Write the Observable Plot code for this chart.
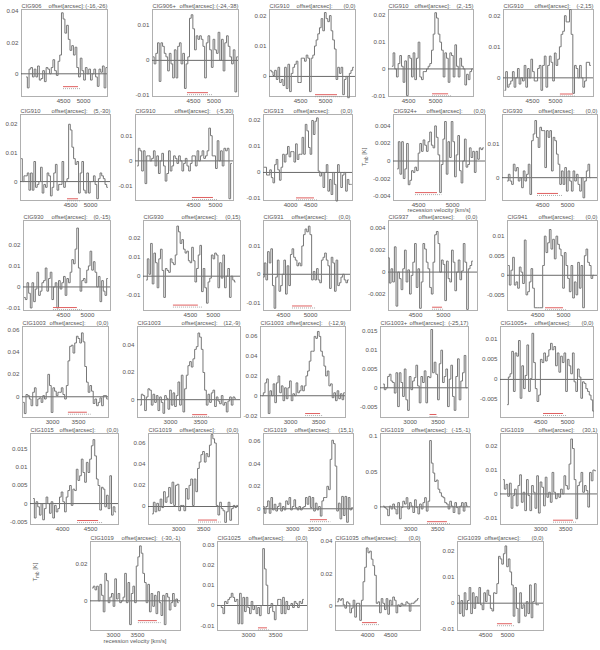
<!DOCTYPE html>
<html><head><meta charset="utf-8">
<script src="https://cdn.jsdelivr.net/npm/d3@7"></script>
<script src="https://cdn.jsdelivr.net/npm/@observablehq/plot@0.6"></script>
<style>
body{margin:0;background:#fff;}
#chart{position:relative;width:600px;height:650px;overflow:hidden;}
#chart svg{position:absolute;max-width:none;overflow:visible;background:transparent;}
</style></head><body><div id="chart"></div>
<script>
// ---------- data ----------
const names = ["CIG906","CIG906+","CIG910","CIG910","CIG910",
  "CIG910","CIG910","CIG913","CIG924+","CIG930",
  "CIG930","CIG930","CIG931","CIG937","CIG941",
  "CIG1003","CIG1003","CIG1003","CIG1003+","CIG1005+",
  "CIG1015","CIG1019","CIG1019","CIG1019","CIG1019",
  "CIG1019","CIG1025","CIG1035","CIG1039"];
const offsets = ["(-16,-26)","(-24,-38)","(0,0)","(2,-15)","(-2,15)",
  "(5,-30)","(-5,30)","(0,0)","(0,0)","(0,0)",
  "(0,-15)","(0,15)","(0,0)","(0,0)","(0,0)",
  "(0,0)","(12,-9)","(-12,9)","(-25,17)","(0,0)",
  "(0,0)","(0,0)","(15,1)","(-15,-1)","(30,1)",
  "(-30,-1)","(0,0)","(0,0)","(0,0)"];
const xDomains = [[3450,5600],[3500,5600],[3880,5600],[4130,5700],[3870,5826],
  [3250,5500],[3183,5410],[3325,5550],[4132,5485],[3700,5600],
  [3667,5480],[3480,5590],[4130,5740],[4017,5609],[3923,5650],
  [2423,4077],[2450,4167],[2463,3982],[2464,4054],[3760,5480],
  [3427,4999],[2400,4200],[2341,4386],[2444,4111],[2200,4140],
  [2521,4396],[2426,4093],[3304,5152],[3864,5817]];
const xTicks = [[4500,5000],[4500,5000],[4500,5000],[4500,5000],[4500,5000],
  [4500,5000],[4500,5000],[4000,4500],[4500,5000],[4500,5000],
  [4500,5000],[4500,5000],[4500,5000],[4500,5000],[4500,5000],
  [3000,3500],[3000,3500],[3000,3500],[3000,3500],[4500,5000],
  [4000,4500],[3000,3500],[3000,3500],[3000,3500],[3000,3500],
  [3000,3500],[3000,3500],[4000,4500],[4500,5000]];
const yDomains = [[-0.0145,0.0411],[-0.0103,0.0145],[-0.0066,0.022],[-0.0103,0.0222],[-0.006,0.022],
  [-0.0066,0.0234],[-0.0157,0.0184],[-0.0108,0.0223],[-0.0045,0.0053],[-0.0068,0.0188],
  [-0.0112,0.0316],[-0.0178,0.0289],[-0.0128,0.019],[-0.0035,0.0047],[-0.009,0.014],
  [-0.0185,0.0627],[-0.0131,0.0538],[-0.022,0.070],[-0.0079,0.0163],[-0.0095,0.0132],
  [-0.0058,0.0194],[-0.017,0.069],[-0.014,0.067],[-0.025,0.104],[-0.0128,0.0253],
  [-0.0162,0.0324],[-0.0123,0.0315],[-0.0153,0.040],[-0.0105,0.0237]];
const yTicks = [[0,0.02,0.04],[-0.01,0,0.01],[0,0.01,0.02],[-0.01,0,0.01,0.02],[0,0.01,0.02],
  [0,0.01,0.02],[-0.01,0,0.01],[-0.01,0,0.01,0.02],[-0.004,-0.002,0,0.002,0.004],[0,0.01],
  [-0.01,0,0.01,0.02],[-0.01,0,0.01,0.02],[-0.01,0,0.01],[-0.002,0,0.002,0.004],[-0.005,0,0.005,0.01],
  [0,0.02,0.04,0.06],[0,0.02,0.04],[-0.02,0,0.02,0.04,0.06],[-0.005,0,0.005,0.01,0.015],[-0.005,0,0.005,0.01],
  [-0.005,0,0.005,0.01,0.015],[0,0.02,0.04,0.06],[0,0.02,0.04,0.06],[0,0.05,0.1],[-0.01,0,0.01,0.02],
  [0,0.02],[-0.01,0,0.01,0.02,0.03],[0,0.02,0.04],[-0.01,0,0.01,0.02]];
// velocity of first and last channel of each spectrum
const chanRange = [[3575,5580],[3520,5575],[3900,5560],[4200,5680],[3900,5760],
  [3275,5425],[3228,5364],[3340,5520],[4191,5455],[3800,5460],
  [3688,5417],[3545,5475],[4130,5700],[4017,5520],[3942,5574],
  [2442,4058],[2500,4083],[2499,3964],[2518,4021],[3890,5480],
  [3481,4949],[2480,4180],[2341,4361],[2500,4054],[2260,4100],
  [2563,4351],[2481,4017],[3347,5105],[3887,5704]];
// red line-width bars
const redX1 = [4500,4354,4800,4944,5107, 4425,4477,4150,4455,4400, 4291,4131,4667,4805,4653,
  3306,3369,3269,3359,4556, 4268,3400,3408,3314,3260, 3519,3185,3890,4772];
const redX2 = [4875,4867,5240,5240,5389, 4700,4954,4600,4779,4820, 4790,4674,5037,4984,4998,
  3671,3619,3537,3484,4926, 4644,3780,3794,3684,3660, 3914,3352,4215,5112];
const redY = [-0.0082,-0.0092,-0.006,-0.0093,-0.0052, -0.006,-0.0145,-0.0098,-0.0036,-0.0047,
  -0.0098,-0.015,-0.0112,-0.0032,-0.0083, -0.0138,-0.011,-0.018,-0.0071,-0.0085,
  -0.0047,-0.0128,-0.0097,-0.021,-0.011, -0.0108,-0.011,-0.0104,-0.0079];

// spectra (T_mb in K)
const s1 = [-0.002,-0.009,0.003,0.004,-0.002,0.003,-0.002,0.005,-0.004,-0.003,0.002,-0.005,0.004,0.003,0.000,0.004,0.009,0.002,-0.001,0.008,0.012,0.039,0.035,0.026,0.031,0.022,0.015,0.018,0.012,0.017,0.004,-0.002,0.010,0.002,-0.004,0.004,0.000,0.003,-0.004,0.000,0.003,-0.002,-0.008,0.003,0.001,0.005,-0.009,0.004];
const s2 = [0.001,-0.001,0.002,0.005,-0.006,0.005,0.004,0.002,0.001,-0.003,0.002,-0.001,-0.005,0.003,-0.005,0.004,0.005,-0.001,0.002,-0.008,-0.001,0.001,0.012,0.013,0.009,0.003,0.007,0.006,0.007,0.006,0.004,-0.005,0.005,0.007,0.003,-0.002,0.006,0.003,0.002,0.008,0.000,0.006,-0.003,0.005,0.007,0.004,0.001,-0.001,0.003,-0.009,0.001];
const s3 = [0.002,0.0015,0.0003,0.002,-0.001,0.003,-0.002,-0.001,-0.003,0.003,-0.004,0.004,-0.005,0.001,0.003,0.004,0.005,-0.002,-0.002,0.006,0.006,0.005,0.007,0.006,-0.005,0.006,0.007,0.010,0.012,0.014,0.016,0.019,0.015,0.021,0.019,0.018,0.020,0.015,0.012,0.009,-0.001,0.003,0.001,0.003,-0.006,-0.001,0.000,-0.007,0.001,0.002,0.003];
const s4 = [0.001,0.006,0.000,-0.003,0.002,0.005,0.001,-0.005,0.003,-0.010,0.005,0.004,-0.003,0.006,-0.004,0.004,0.010,-0.003,-0.004,-0.001,-0.001,0.000,0.001,0.002,0.007,0.013,0.021,0.019,0.013,0.010,0.007,-0.003,0.006,0.004,-0.005,0.006,0.005,-0.003,0.009,0.001,-0.003,0.004,0.001,0.000,-0.006,-0.002,-0.004,-0.001,0.000];
const s5 = [-0.004,0.002,-0.003,-0.002,-0.001,0.002,-0.003,0.000,0.003,-0.002,0.000,-0.001,0.004,-0.003,0.003,0.000,0.006,0.002,-0.001,-0.001,0.003,0.004,-0.004,0.004,0.007,-0.003,0.004,0.007,0.005,-0.001,0.008,0.004,0.006,0.010,0.014,0.015,0.020,0.018,0.018,0.022,0.014,-0.005,0.004,0.003,0.000,0.004,0.000,-0.003,-0.001,0.005,0.005,0.004];
const s6 = [0.008,0.000,0.002,0.002,0.003,-0.003,0.003,-0.003,0.007,-0.002,-0.001,0.000,0.005,-0.004,-0.001,-0.002,0.003,0.002,-0.005,-0.002,0.003,0.006,-0.003,-0.001,-0.001,0.007,-0.002,0.000,0.001,0.020,0.018,0.012,0.008,0.006,0.007,-0.004,0.003,0.007,-0.003,-0.004,0.003,-0.004,0.000,0.000,0.002,-0.001,-0.006,0.001,0.003,0.002,0.001,-0.001,-0.002];
const s7 = [-0.002,0.005,0.004,-0.004,0.004,-0.009,0.002,0.002,0.000,0.001,0.004,-0.002,0.002,-0.005,0.000,0.003,-0.002,-0.008,-0.005,0.004,-0.004,-0.002,0.002,0.001,-0.001,0.002,0.000,-0.004,-0.001,0.001,-0.002,-0.004,-0.001,0.002,0.002,-0.002,0.004,0.000,0.002,0.004,0.001,0.002,0.004,0.013,0.010,0.002,0.002,-0.003,0.008,0.000,0.004,-0.002,0.005,0.004,0.005,-0.015,-0.001];
const s8 = [0.002,0.002,-0.001,-0.001,0.001,-0.002,-0.004,0.003,0.005,0.001,-0.003,0.002,0.007,0.004,0.007,0.010,0.006,0.008,0.008,0.004,0.011,0.005,0.007,0.007,0.0135,0.007,0.0185,0.016,0.0096,0.007,0.020,0.0146,0.0197,0.021,0.0005,-0.0014,0.000,-0.0058,0.000,0.003,-0.0072,-0.0027,-0.0085,0.000,-0.0046,-0.011,0.003,0.000,-0.0058,-0.001,0.000,-0.0072,-0.0027,-0.0046,-0.0046];
const s9 = [-0.0009,0.0022,-0.0015,0.0022,-0.002,-0.0009,0.002,-0.0027,-0.0022,-0.0011,-0.0013,-0.0007,-0.0011,0.0009,0.002,0.0011,0.0024,0.0018,0.0011,0.0022,0.0033,0.0018,0.0015,0.004,0.0027,0.0007,-0.0036,-0.0004,0.0025,0.0045,-0.0015,0.0022,0.0004,0.0045,0.0022,-0.0018,0.0007,0.0029,-0.0011,-0.0025,0.000,0.0025,-0.0007,-0.0004,0.0015,0.0004,0.0011,-0.0013,0.0011,0.0002,0.0015,0.0013,0.0015];
const s10 = [-0.001,0.001,-0.001,-0.002,0.004,0.002,0.003,-0.001,0.000,-0.003,0.002,-0.001,0.001,0.004,-0.005,0.011,0.013,0.017,0.012,0.009,0.015,0.014,0.014,0.003,0.014,0.012,0.014,0.002,0.012,0.011,0.007,0.004,-0.002,0.002,-0.002,0.003,-0.004,0.002,-0.001,-0.004,0.002,-0.001,0.001,-0.002,-0.004,0.000,-0.006,-0.001,0.002,0.004,0.000];
const s11 = [-0.005,-0.006,0.002,-0.003,-0.010,0.002,-0.007,-0.001,0.007,-0.004,-0.002,0.002,0.003,0.009,-0.002,0.004,0.007,-0.006,0.000,0.002,-0.010,0.003,-0.001,0.002,0.005,-0.004,0.004,0.002,0.007,0.013,0.011,0.018,0.028,0.009,-0.002,0.003,0.004,0.002,0.008,0.010,0.017,0.008,0.012,0.007,0.000,0.005,-0.007,0.003,-0.002,-0.004,0.004];
const s12 = [-0.002,0.009,0.001,0.017,-0.004,0.012,0.007,-0.006,0.009,0.014,0.003,-0.011,0.004,0.003,0.002,0.009,0.007,0.006,0.011,0.026,0.023,0.017,0.019,0.014,0.012,0.013,0.008,0.007,0.015,0.008,-0.003,0.004,0.011,0.016,-0.008,0.004,-0.006,-0.014,-0.003,-0.001,0.011,0.009,0.012,0.011,-0.006,0.007,-0.001,0.011,-0.006,0.000,0.004,-0.011,0.000,-0.002,-0.003];
const s13 = [-0.001,0.004,-0.002,0.008,0.004,0.009,-0.004,-0.012,-0.001,0.005,-0.006,-0.004,0.000,0.005,-0.007,0.003,-0.004,0.007,0.009,0.006,0.005,0.003,0.004,0.003,0.010,0.014,0.016,0.015,0.017,0.014,-0.002,0.001,-0.002,0.002,-0.002,-0.003,0.005,0.006,0.0075,0.005,0.003,-0.005,0.006,0.004,-0.006,0.005,-0.004,-0.003,-0.001,0.000,-0.002,-0.003,-0.002];
const s14 = [0.0013,-0.001,0.0003,-0.0009,0.0023,-0.0031,0.000,-0.0006,-0.0016,0.0003,0.002,-0.0009,0.0002,-0.002,-0.0003,0.0009,0.0026,-0.0014,0.0003,-0.0033,-0.0009,0.0026,0.0021,0.0009,0.0003,-0.0014,-0.002,0.0009,0.0034,0.0037,0.0026,0.000,0.0011,0.0007,-0.0026,0.001,-0.0006,-0.0009,0.002,0.0009,-0.0017,0.000,0.0011,-0.0007,0.0001,0.0026,0.0009,-0.0034,0.0003,0.0006,0.001];
const s15 = [0.0025,-0.0025,0.0013,0.0046,-0.0025,-0.0017,-0.0033,0.0021,0.0008,-0.0021,0.009,-0.005,-0.0042,-0.0017,0.0017,-0.0033,-0.0083,-0.0083,-0.0083,-0.0083,-0.0083,0.0025,0.010,0.0058,0.0083,0.0117,0.0067,0.0092,0.0042,0.010,0.0079,0.0067,0.005,-0.0033,0.0058,0.0025,-0.0008,-0.0042,0.0025,-0.0058,-0.0017,-0.005,0.0033,-0.0033,0.0025,-0.0083,0.005,0.0067,0.0033,0.0025,-0.0008,0.000];
const s16 = [-0.005,-0.015,0.002,0.001,-0.002,-0.008,0.004,0.008,-0.008,-0.002,-0.001,-0.005,0.001,-0.002,0.004,0.020,0.010,-0.014,0.008,0.005,0.001,0.004,0.004,0.008,0.002,-0.002,0.010,0.032,0.045,0.046,0.039,0.048,0.054,0.052,0.048,0.057,0.049,0.027,0.013,0.004,0.010,0.005,-0.006,-0.002,-0.008,-0.005,-0.001,-0.008,0.001,0.001,-0.002];
const s17 = [-0.004,0.004,0.003,-0.008,0.002,0.008,0.007,-0.004,0.004,-0.002,0.003,-0.008,0.002,-0.002,-0.010,0.003,0.001,-0.007,0.007,-0.004,0.005,-0.005,0.003,0.013,-0.004,0.018,-0.009,0.008,0.018,0.025,0.028,0.024,0.030,0.037,0.039,0.049,0.046,0.037,0.020,0.007,-0.004,0.004,-0.002,0.005,0.007,-0.005,0.002,-0.001,-0.003,0.003,-0.004,-0.002,-0.009,-0.001,0.002,-0.004,0.002,0.001];
const s18 = [0.000,0.003,0.013,0.017,-0.018,0.005,0.000,0.012,-0.007,0.013,0.020,0.003,0.010,-0.005,0.008,-0.003,0.008,0.015,-0.005,0.002,0.000,0.013,0.003,0.005,0.010,0.005,0.010,0.020,0.025,0.035,0.045,0.045,0.060,0.058,0.065,0.060,0.045,0.040,0.030,0.020,0.025,0.010,0.012,-0.002,0.003,-0.005,0.005,-0.003,0.002,-0.004,0.003];
const s19 = [0.001,-0.0005,0.000,0.003,0.0036,0.0018,0.0014,-0.0014,0.004,-0.005,0.004,0.0014,-0.0023,0.005,-0.0032,-0.006,0.003,-0.0005,0.0018,0.0027,0.006,0.0005,-0.004,0.003,0.0014,0.0045,-0.004,0.003,0.0027,0.0155,0.004,0.0068,0.0036,-0.0032,0.0064,0.010,0.0014,0.003,0.005,-0.005,0.0023,0.006,-0.0023,-0.006,0.003,0.0077,-0.0032,0.0018,0.004,0.0086,0.000];
const s20 = [-0.0063,0.0006,0.0014,0.007,-0.003,0.0066,0.0058,0.0097,-0.0047,0.0034,-0.0023,0.001,0.0086,-0.003,0.0002,0.0115,0.0042,-0.0023,-0.0055,-0.0039,0.005,0.0042,0.0066,0.0046,0.0058,0.0074,0.009,0.0074,0.0082,0.0034,0.0066,0.0018,0.0058,0.0042,0.0066,-0.003,0.005,0.0034,0.0014,0.0066,-0.0006,-0.003,0.0026,0.0006,-0.0047,-0.0006,-0.001,-0.0023,-0.003,-0.0039,-0.0051,-0.0079];
const s21 = [0.0014,-0.004,0.0005,-0.0009,-0.0032,0.000,-0.0045,-0.0014,0.0018,0.000,-0.0027,0.0005,-0.004,-0.0005,-0.0023,-0.0014,0.0018,0.0032,0.0005,-0.0023,0.0018,0.0036,0.005,-0.0005,0.004,0.0036,0.0095,0.0064,0.0077,0.0123,0.0086,0.0059,0.0114,0.0086,0.0123,0.016,0.0177,0.0132,0.0068,0.005,-0.0018,0.0045,0.004,-0.0009,0.0023,-0.0014,0.0077,-0.0032,-0.0009,-0.0023];
const s22 = [-0.007,0.004,-0.005,0.003,-0.004,0.007,-0.001,0.014,0.004,0.009,0.018,0.003,0.023,0.001,0.020,0.021,-0.004,0.001,0.001,-0.004,0.017,0.007,0.020,0.026,0.001,0.026,0.014,0.036,0.042,0.049,0.052,0.042,0.050,0.047,0.058,0.068,0.064,0.060,0.001,-0.008,0.004,-0.002,-0.004,-0.015,-0.005,0.004,-0.013,-0.002,0.001,-0.001,0.001];
const s23 = [0.002,-0.004,0.002,0.007,-0.004,0.010,-0.001,0.004,-0.002,0.002,0.005,-0.002,0.002,-0.001,0.007,0.004,0.010,-0.001,0.002,0.008,0.001,-0.001,0.002,-0.001,0.001,0.002,0.010,0.004,0.011,0.001,0.010,-0.002,0.005,-0.001,0.002,-0.0065,0.007,0.010,0.010,0.020,0.017,0.044,0.061,0.058,0.038,-0.002,0.005,-0.009,0.011,-0.006,0.011,-0.012,0.010,-0.001,0.001];
const s24 = [0.001,-0.001,-0.003,-0.0125,0.001,-0.003,0.004,-0.003,-0.010,0.006,-0.017,-0.001,0.008,0.004,0.013,-0.003,0.006,0.001,-0.008,0.010,-0.001,-0.010,0.004,-0.003,0.006,0.013,-0.006,0.008,0.094,0.062,0.048,0.036,0.038,0.025,0.020,0.015,0.013,0.006,0.004,-0.003,0.008,0.001,-0.008,0.006,-0.001,-0.010,0.001,0.006,-0.006,0.006,0.001];
const s25 = [0.006,0.002,0.004,-0.001,0.0045,-0.006,-0.0007,0.002,-0.005,0.0035,0.008,-0.0035,0.0007,-0.007,0.006,-0.0007,-0.007,0.0035,0.0007,-0.006,0.0076,-0.008,0.005,0.0028,-0.005,0.007,-0.0014,0.0007,-0.0035,0.009,0.0007,-0.002,0.000,-0.0014,0.002,0.000,0.0076,0.0035,0.002,0.0125,0.023,0.019,0.006,-0.0104,0.0035,0.005,0.009,0.0007,0.0035,0.0014,-0.0055,0.009,0.0055,0.010,0.0097];
const s26 = [0.007,0.008,0.006,0.008,0.000,0.009,0.003,-0.006,0.015,0.011,-0.001,0.002,0.004,-0.003,0.012,0.001,0.004,-0.001,0.000,0.002,0.015,-0.001,0.010,-0.013,0.004,0.008,-0.001,0.019,0.024,0.030,0.026,0.015,0.010,-0.001,0.009,-0.006,0.004,-0.003,0.003,-0.007,0.005,-0.001,-0.008,0.003,-0.013,0.004,0.002,-0.005,-0.001,0.004,-0.003,0.001,-0.001];
const s27 = [0.000,-0.001,-0.004,0.002,0.001,0.003,0.004,0.006,0.004,0.002,0.003,-0.009,0.006,-0.009,0.004,-0.003,0.004,-0.001,-0.004,0.002,-0.002,0.000,-0.004,-0.001,-0.005,0.000,0.028,0.018,0.010,-0.004,-0.001,0.001,-0.003,-0.007,0.000,0.003,0.003,-0.004,0.004,-0.004,0.002,-0.002,0.000,0.001,-0.001,0.002,0.001,-0.001,0.002,0.001,0.003];
const s28 = [0.0025,0.0045,0.0035,0.0045,0.0006,-0.0014,0.0025,0.0016,-0.0043,-0.0014,0.0035,-0.007,0.0016,0.0016,-0.009,0.0035,0.015,0.024,0.036,0.033,0.034,0.029,0.025,0.019,0.0016,0.0025,-0.0043,0.0045,0.0016,-0.0023,0.0045,-0.0052,0.0035,0.0006,0.0055,0.0035,-0.0043,0.0006,-0.0004,0.0016,0.0006,0.0006,0.0025,0.0016,-0.0033,0.0016,0.0016,0.0025,0.0035,0.0045];
const s29 = [0.003,-0.004,0.001,-0.005,0.004,-0.0025,0.001,0.006,-0.004,0.004,-0.002,0.0025,0.000,0.006,-0.0006,-0.0025,0.004,0.0006,0.005,0.003,-0.002,-0.003,0.004,0.0037,0.0075,0.018,0.017,0.015,0.019,0.022,0.014,0.017,0.012,0.007,-0.005,0.006,-0.002,-0.0075,0.004,-0.002,-0.0006,-0.005,0.0006,-0.004,0.007,-0.0056,0.0006,0.0075,-0.0006,-0.0006];
const spectra = [s1,s2,s3,s4,s5,s6,s7,s8,s9,s10,s11,s12,s13,s14,s15,s16,s17,s18,s19,s20,s21,s22,s23,s24,s25,s26,s27,s28,s29];

// ---------- layout ----------
const rowTop = [9,114,220,326,433,541];
const rowBottom = [96,200,310,417,524,630];
const frameX = [[21,107],[152,238],[269,355],[388,473],[503,593],
  [20,110],[135,233],[263,352],[393,485],[502,597],
  [23,110],[143,240],[263,350],[388,477],[507,597],
  [22,108],[137,240],[260,345],[380,468],[500,593],
  [30,118],[148,238],[263,353],[380,470],[500,597],
  [90,180],[217,307],[335,420],[457,543]];

const FONT = "'Liberation Sans', Arial, sans-serif";
const TITLE = 5.8, FIELD = 23;
const ML = 40, MR = 6, MT = 12, MB = 14;
const chart = document.getElementById("chart");

spectra.forEach((vals, i) => {
  const row = Math.min(5, Math.floor(i / 5));
  const [fl, fr] = frameX[i];
  const top = rowTop[row], bottom = rowBottom[row];
  const w = fr - fl, h = bottom - top;
  const [v0, v1] = chanRange[i];
  const dv = (v1 - v0) / (vals.length - 1);
  const data = vals.map((t, k) => ({v: v0 + k * dv, t}));
  const red = [{a: redX1[i], b: redX2[i], y: redY[i]}];
  const dot = [{a: redX1[i], b: redX2[i] + 0.2 * (redX2[i] - redX1[i]), y: redY[i]}];
  const svg = Plot.plot({
    width: w + ML + MR, height: h + MT + MB,
    marginLeft: ML, marginRight: MR, marginTop: MT, marginBottom: MB,
    style: {fontFamily: FONT, fontSize: "6.2px", color: "#555", background: "transparent", overflow: "visible"},
    x: {domain: xDomains[i], ticks: xTicks[i], tickSize: 0, tickPadding: 2, tickFormat: d => String(d), label: null},
    y: {domain: yDomains[i], ticks: yTicks[i], tickSize: 0, tickPadding: 3, tickFormat: d => String(d), label: null},
    marks: [
      Plot.frame({stroke: "#b0b0b0"}),
      Plot.ruleY([0], {stroke: "#444", strokeWidth: 0.8}),
      Plot.line(data, {x: "v", y: "t", curve: "step", stroke: "#777", strokeWidth: 1}),
      Plot.ruleY(dot, {x1: "a", x2: "b", y: "y", dy: 2, stroke: "#999", strokeWidth: 0.8, strokeDasharray: "1,1"}),
      Plot.ruleY(red, {x1: "a", x2: "b", y: "y", stroke: "#e06060", strokeWidth: 1}),
      Plot.text([names[i]], {text: d => d, frameAnchor: "top-left", dy: -2, lineAnchor: "bottom", textAnchor: "start", fill: "#555", fontSize: TITLE}),
      Plot.text(["offset[arcsec]:"], {text: d => d, frameAnchor: "top-right", dx: -FIELD, dy: -2, lineAnchor: "bottom", textAnchor: "end", fill: "#555", fontSize: TITLE}),
      Plot.text([offsets[i]], {text: d => d, frameAnchor: "top-right", dy: -2, lineAnchor: "bottom", textAnchor: "end", fill: "#555", fontSize: TITLE})
    ]
  });
  svg.style.left = (fl - ML) + "px";
  svg.style.top = (top - MT) + "px";
  chart.appendChild(svg);
});

// axis titles (overlay)
const ov = d3.select(chart).append("svg")
  .attr("width", 600).attr("height", 650)
  .style("left", "0px").style("top", "0px")
  .attr("font-family", FONT).attr("font-size", 5.8).attr("fill", "#555");
const xLabels = [{x: 439, y: 212}, {x: 135, y: 643}];
xLabels.forEach(p => ov.append("text").attr("x", p.x).attr("y", p.y)
  .attr("text-anchor", "middle").text("recession velocity [km/s]"));
const yLabels = [{x: 366, y: 157}, {x: 37, y: 572}];
yLabels.forEach(p => {
  const t = ov.append("text").attr("transform", `translate(${p.x},${p.y}) rotate(-90)`)
    .attr("text-anchor", "middle");
  t.append("tspan").text("T");
  t.append("tspan").attr("font-size", 4.5).attr("dy", 1.5).text("mb");
  t.append("tspan").attr("dy", -1.5).text(" [K]");
});
</script></body></html>
